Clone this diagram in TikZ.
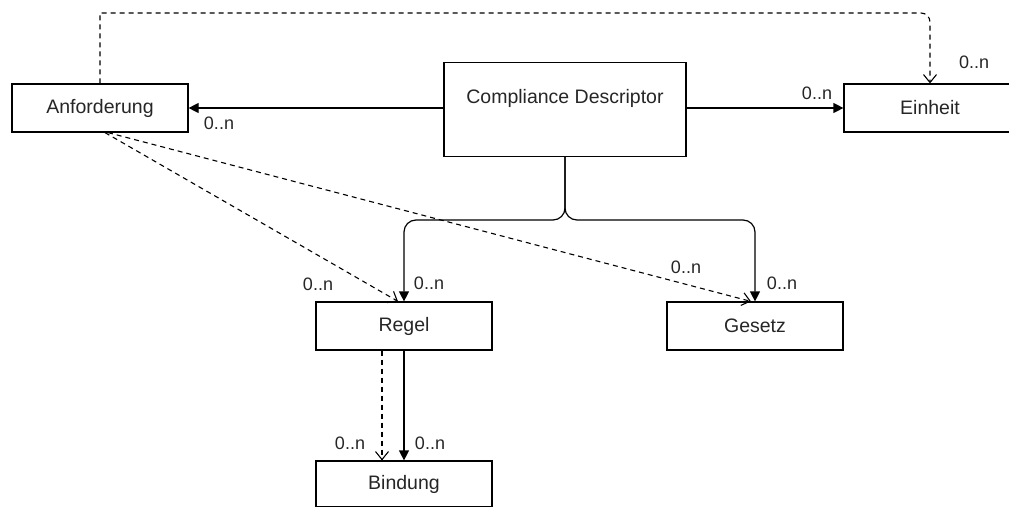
\documentclass[tikz,border=0pt]{standalone}
\usepackage{fontspec}
\setmainfont{Liberation Sans}
\usetikzlibrary{arrows.meta}
\begin{document}
\begin{tikzpicture}[x=1pt,y=-1pt,
  box/.style={draw=black, line width=1.2pt, fill=white, minimum width=176pt,
    minimum height=48pt, inner sep=0pt, text=black!85,
    font=\fontsize{19.5}{23}\selectfont},
  assoc/.style={line width=1.2pt, -{Triangle[length=10pt,width=10pt]}},
  dep/.style={line width=1.1pt, dash pattern=on 5pt off 4pt,
    -{Straight Barb[length=8pt,width=13pt,line width=1.1pt]}},
  mult/.style={text=black!85, inner sep=0pt, font=\fontsize{18}{21}\selectfont}]
\useasboundingbox (0,0) rectangle (1009,506);
\clip (0,0) rectangle (1009,506);

% classes
\node[box] (anf) at (100,108) {Anforderung};
\node[box, minimum width=242pt, inner ysep=0pt, text height=41pt, text depth=53pt]
  (cd) at (565,62) [anchor=north] {Compliance Descriptor};
\node[box, minimum width=172pt] (ein) at (930,108) {Einheit};
\node[box] (regel) at (404,326) {Regel};
\node[box] (ges) at (755,326) {Gesetz};
\node[box, minimum height=46pt] (bind) at (404,484) {Bindung};

% branching level below the descriptor
\coordinate (split) at (565,220);
\coordinate (top) at (100,13);

% associations from the descriptor
\draw[assoc] (anf.east -| cd.west) -- (anf.east);
\draw[assoc] (ein.west -| cd.east) -- (ein.west);
\draw[assoc, rounded corners=12pt] (cd.south) |- (regel.north |- split) -- (regel.north);
\draw[assoc, rounded corners=12pt] (cd.south) |- (ges.north |- split) -- (ges.north);
\draw[assoc] (regel.south) -- (bind.north);

% dependencies
\draw[dep] (anf.north) -- (top) [rounded corners=9pt] -| (ein.north);
\draw[dep] ([xshift=5pt]anf.south) -- ([xshift=-6pt]regel.north);
\draw[dep] ([xshift=8pt]anf.south) -- ([xshift=-4pt]ges.north);
\draw[dep] ([xshift=-22pt]regel.south) -- ([xshift=-22pt]bind.north);

% multiplicities
\node[mult] (m1) at (219,123) {0..n};
\node[mult] (m2) at (817,93) {0..n};
\node[mult] (m3) at (974,62) {0..n};
\node[mult] (m4) at (318,284) {0..n};
\node[mult] (m5) at (429,283) {0..n};
\node[mult] (m6) at (686,267) {0..n};
\node[mult] (m7) at (782,283) {0..n};
\node[mult] (m8) at (350,443) {0..n};
\node[mult] (m9) at (430,443) {0..n};
\end{tikzpicture}
\end{document}
